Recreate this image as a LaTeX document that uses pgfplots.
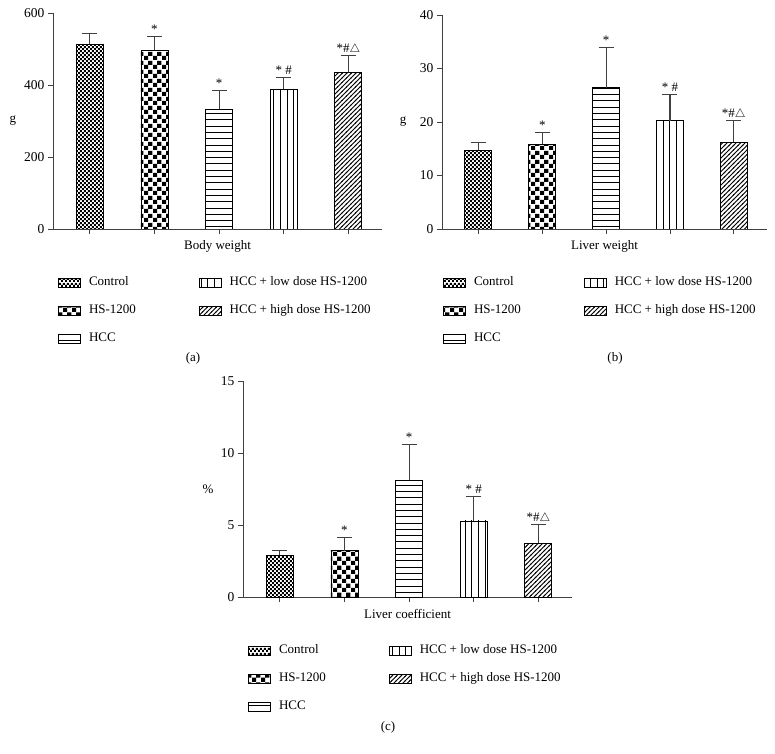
\documentclass[border=0pt]{standalone}
\usepackage{pgfplots}
\pgfplotsset{compat=1.18}
\usepackage{fontspec}
\setmainfont{Liberation Serif}
\usetikzlibrary{patterns}
\newcommand\ff{\fontsize{13}{15.6}\selectfont}
\newcommand\fft{\fontsize{13.5}{16}\selectfont}

\pgfdeclarepatternformonly{finecheck}{\pgfqpoint{0pt}{0pt}}{\pgfqpoint{4.4pt}{4.4pt}}{\pgfqpoint{4.4pt}{4.4pt}}{%
  \pgfpathrectangle{\pgfqpoint{0pt}{0pt}}{\pgfqpoint{2.2pt}{2.2pt}}%
  \pgfpathrectangle{\pgfqpoint{2.2pt}{2.2pt}}{\pgfqpoint{2.2pt}{2.2pt}}%
  \pgfusepath{fill}}
\pgfdeclarepatternformonly{bigcheck}{\pgfqpoint{0pt}{0pt}}{\pgfqpoint{9pt}{9pt}}{\pgfqpoint{9pt}{9pt}}{%
  \pgfpathrectangle{\pgfqpoint{0pt}{0pt}}{\pgfqpoint{4.5pt}{4.5pt}}%
  \pgfpathrectangle{\pgfqpoint{4.5pt}{4.5pt}}{\pgfqpoint{4.5pt}{4.5pt}}%
  \pgfusepath{fill}}
\pgfdeclarepatternformonly{hlines}{\pgfqpoint{-0.5pt}{-0.5pt}}{\pgfqpoint{6.8pt}{6.8pt}}{\pgfqpoint{6.3pt}{6.3pt}}{%
  \pgfsetlinewidth{1pt}%
  \pgfpathmoveto{\pgfqpoint{-0.5pt}{3.15pt}}\pgfpathlineto{\pgfqpoint{6.8pt}{3.15pt}}%
  \pgfusepath{stroke}}
\pgfdeclarepatternformonly{vlines}{\pgfqpoint{-0.5pt}{-0.5pt}}{\pgfqpoint{7.1pt}{7.1pt}}{\pgfqpoint{6.6pt}{6.6pt}}{%
  \pgfsetlinewidth{1pt}%
  \pgfpathmoveto{\pgfqpoint{3.3pt}{-0.5pt}}\pgfpathlineto{\pgfqpoint{3.3pt}{7.1pt}}%
  \pgfusepath{stroke}}
\pgfdeclarepatternformonly{diag}{\pgfqpoint{-1pt}{-1pt}}{\pgfqpoint{5.5pt}{5.5pt}}{\pgfqpoint{4.5pt}{4.5pt}}{%
  \pgfsetlinewidth{0.8pt}%
  \pgfpathmoveto{\pgfqpoint{-0.5pt}{-0.5pt}}\pgfpathlineto{\pgfqpoint{5pt}{5pt}}%
  \pgfusepath{stroke}}

\pgfplotsset{
  myaxis/.style={
    scale only axis, axis x line*=bottom, axis y line*=left,
    enlargelimits=false, xmin=-0.57, xmax=4.52, ymin=0,
    xtick={0,1,2,3,4}, xticklabels={}, tick align=outside,
    major tick length=5pt,
    axis line style={black!75, line width=0.9pt},
    tick style={black!75, line width=0.9pt},
    /pgf/number format/assume math mode=true,
    tick label style={font=\fft},
    label style={font=\ff},
    every axis x label/.style={at={(axis description cs:0.5,0)}, anchor=center, yshift=-17pt},
    legend columns=2, legend cell align=left,
    legend style={font=\ff, draw=none, fill=none, inner sep=0pt,
      at={(axis description cs:0,0)}, anchor=north west, xshift=5pt, yshift=-49pt,
      nodes={inner sep=0pt, text depth=0.25em, text height=0.75em},
      row sep=18pt,
      /tikz/every odd column/.append style={column sep=8pt},
      /tikz/every even column/.append style={column sep=63pt}},
  },
  mybar/.style={ybar, bar width=27pt, bar shift=0pt, draw=black, line width=0.9pt, pattern=#1,
    error bars/.cd, y dir=plus, y explicit,
    error bar style={line width=1.1pt, black!75},
    error mark options={line width=1.1pt, black!75, mark size=7.5pt, rotate=90}},
  patleg/.style={legend image code/.code={\draw[pattern=#1, draw=black, line width=0.8pt] (0pt,-4.5pt) rectangle (22pt,4.5pt);}},
}

\begin{document}
\begin{tikzpicture}[font=\ff]
\path[use as bounding box] (0pt,0pt) rectangle (775pt,753pt);

% (a)
\begin{axis}[myaxis, at={(53pt,524pt)}, anchor=south west, width=329pt, height=216pt,
  ymax=600, ytick={0,200,400,600}, xlabel={Body weight}, ylabel={g},
  every axis y label/.style={at={(axis description cs:-0.122,0.5)}, anchor=center}]
\addlegendimage{patleg=finecheck}\addlegendentry{Control}
\addlegendimage{patleg=vlines}\addlegendentry{HCC + low dose HS-1200}
\addlegendimage{patleg=bigcheck}\addlegendentry{HS-1200}
\addlegendimage{patleg=diag}\addlegendentry{HCC + high dose HS-1200}
\addlegendimage{patleg=hlines}\addlegendentry{HCC}
\addplot[mybar=finecheck] coordinates {(0,513) +- (0,29)};
\addplot[mybar=bigcheck] coordinates {(1,497) +- (0,37)};
\addplot[mybar=hlines] coordinates {(2,332) +- (0,52)};
\addplot[mybar=vlines] coordinates {(3,388) +- (0,34)};
\addplot[mybar=diag] coordinates {(4,436) +- (0,45)};
\node[anchor=base, yshift=3pt] at (axis cs:1,534) {*};
\node[anchor=base, yshift=3pt] at (axis cs:2,384) {*};
\node[anchor=base, yshift=3pt] at (axis cs:3,422) {* \#};
\node[anchor=base, yshift=3pt] at (axis cs:4,481) {*\#$\triangle$};
\end{axis}

% (b)
\begin{axis}[myaxis, at={(442pt,524pt)}, anchor=south west, width=325pt, height=214pt,
  ymax=40, ytick={0,10,20,30,40}, xlabel={Liver weight}, ylabel={g},
  legend style={xshift=-4pt},
  every axis y label/.style={at={(axis description cs:-0.12,0.5)}, anchor=center}]
\addlegendimage{patleg=finecheck}\addlegendentry{Control}
\addlegendimage{patleg=vlines}\addlegendentry{HCC + low dose HS-1200}
\addlegendimage{patleg=bigcheck}\addlegendentry{HS-1200}
\addlegendimage{patleg=diag}\addlegendentry{HCC + high dose HS-1200}
\addlegendimage{patleg=hlines}\addlegendentry{HCC}
\addplot[mybar=finecheck] coordinates {(0,14.7) +- (0,1.4)};
\addplot[mybar=bigcheck] coordinates {(1,15.8) +- (0,2.3)};
\addplot[mybar=hlines] coordinates {(2,26.4) +- (0,7.5)};
\addplot[mybar=vlines] coordinates {(3,20.2) +- (0,4.9)};
\addplot[mybar=diag] coordinates {(4,16.2) +- (0,4.0)};
\node[anchor=base, yshift=3pt] at (axis cs:1,18.1) {*};
\node[anchor=base, yshift=3pt] at (axis cs:2,33.9) {*};
\node[anchor=base, yshift=3pt] at (axis cs:3,25.1) {* \#};
\node[anchor=base, yshift=3pt] at (axis cs:4,20.2) {*\#$\triangle$};
\end{axis}

% (c)
\begin{axis}[myaxis, at={(243pt,156pt)}, anchor=south west, width=329pt, height=216pt,
  ymax=15, ytick={0,5,10,15}, xlabel={Liver coefficient}, ylabel={\%},
  every axis y label/.style={at={(axis description cs:-0.106,0.5)}, anchor=center}]
\addlegendimage{patleg=finecheck}\addlegendentry{Control}
\addlegendimage{patleg=vlines}\addlegendentry{HCC + low dose HS-1200}
\addlegendimage{patleg=bigcheck}\addlegendentry{HS-1200}
\addlegendimage{patleg=diag}\addlegendentry{HCC + high dose HS-1200}
\addlegendimage{patleg=hlines}\addlegendentry{HCC}
\addplot[mybar=finecheck] coordinates {(0,2.9) +- (0,0.36)};
\addplot[mybar=bigcheck] coordinates {(1,3.2) +- (0,0.95)};
\addplot[mybar=hlines] coordinates {(2,8.1) +- (0,2.48)};
\addplot[mybar=vlines] coordinates {(3,5.28) +- (0,1.72)};
\addplot[mybar=diag] coordinates {(4,3.73) +- (0,1.29)};
\node[anchor=base, yshift=3pt] at (axis cs:1,4.15) {*};
\node[anchor=base, yshift=3pt] at (axis cs:2,10.58) {*};
\node[anchor=base, yshift=3pt] at (axis cs:3,7.0) {* \#};
\node[anchor=base, yshift=3pt] at (axis cs:4,5.02) {*\#$\triangle$};
\end{axis}

\node at (193pt,395pt) {(a)};
\node at (615pt,395pt) {(b)};
\node at (388pt,26pt) {(c)};
\end{tikzpicture}
\end{document}
